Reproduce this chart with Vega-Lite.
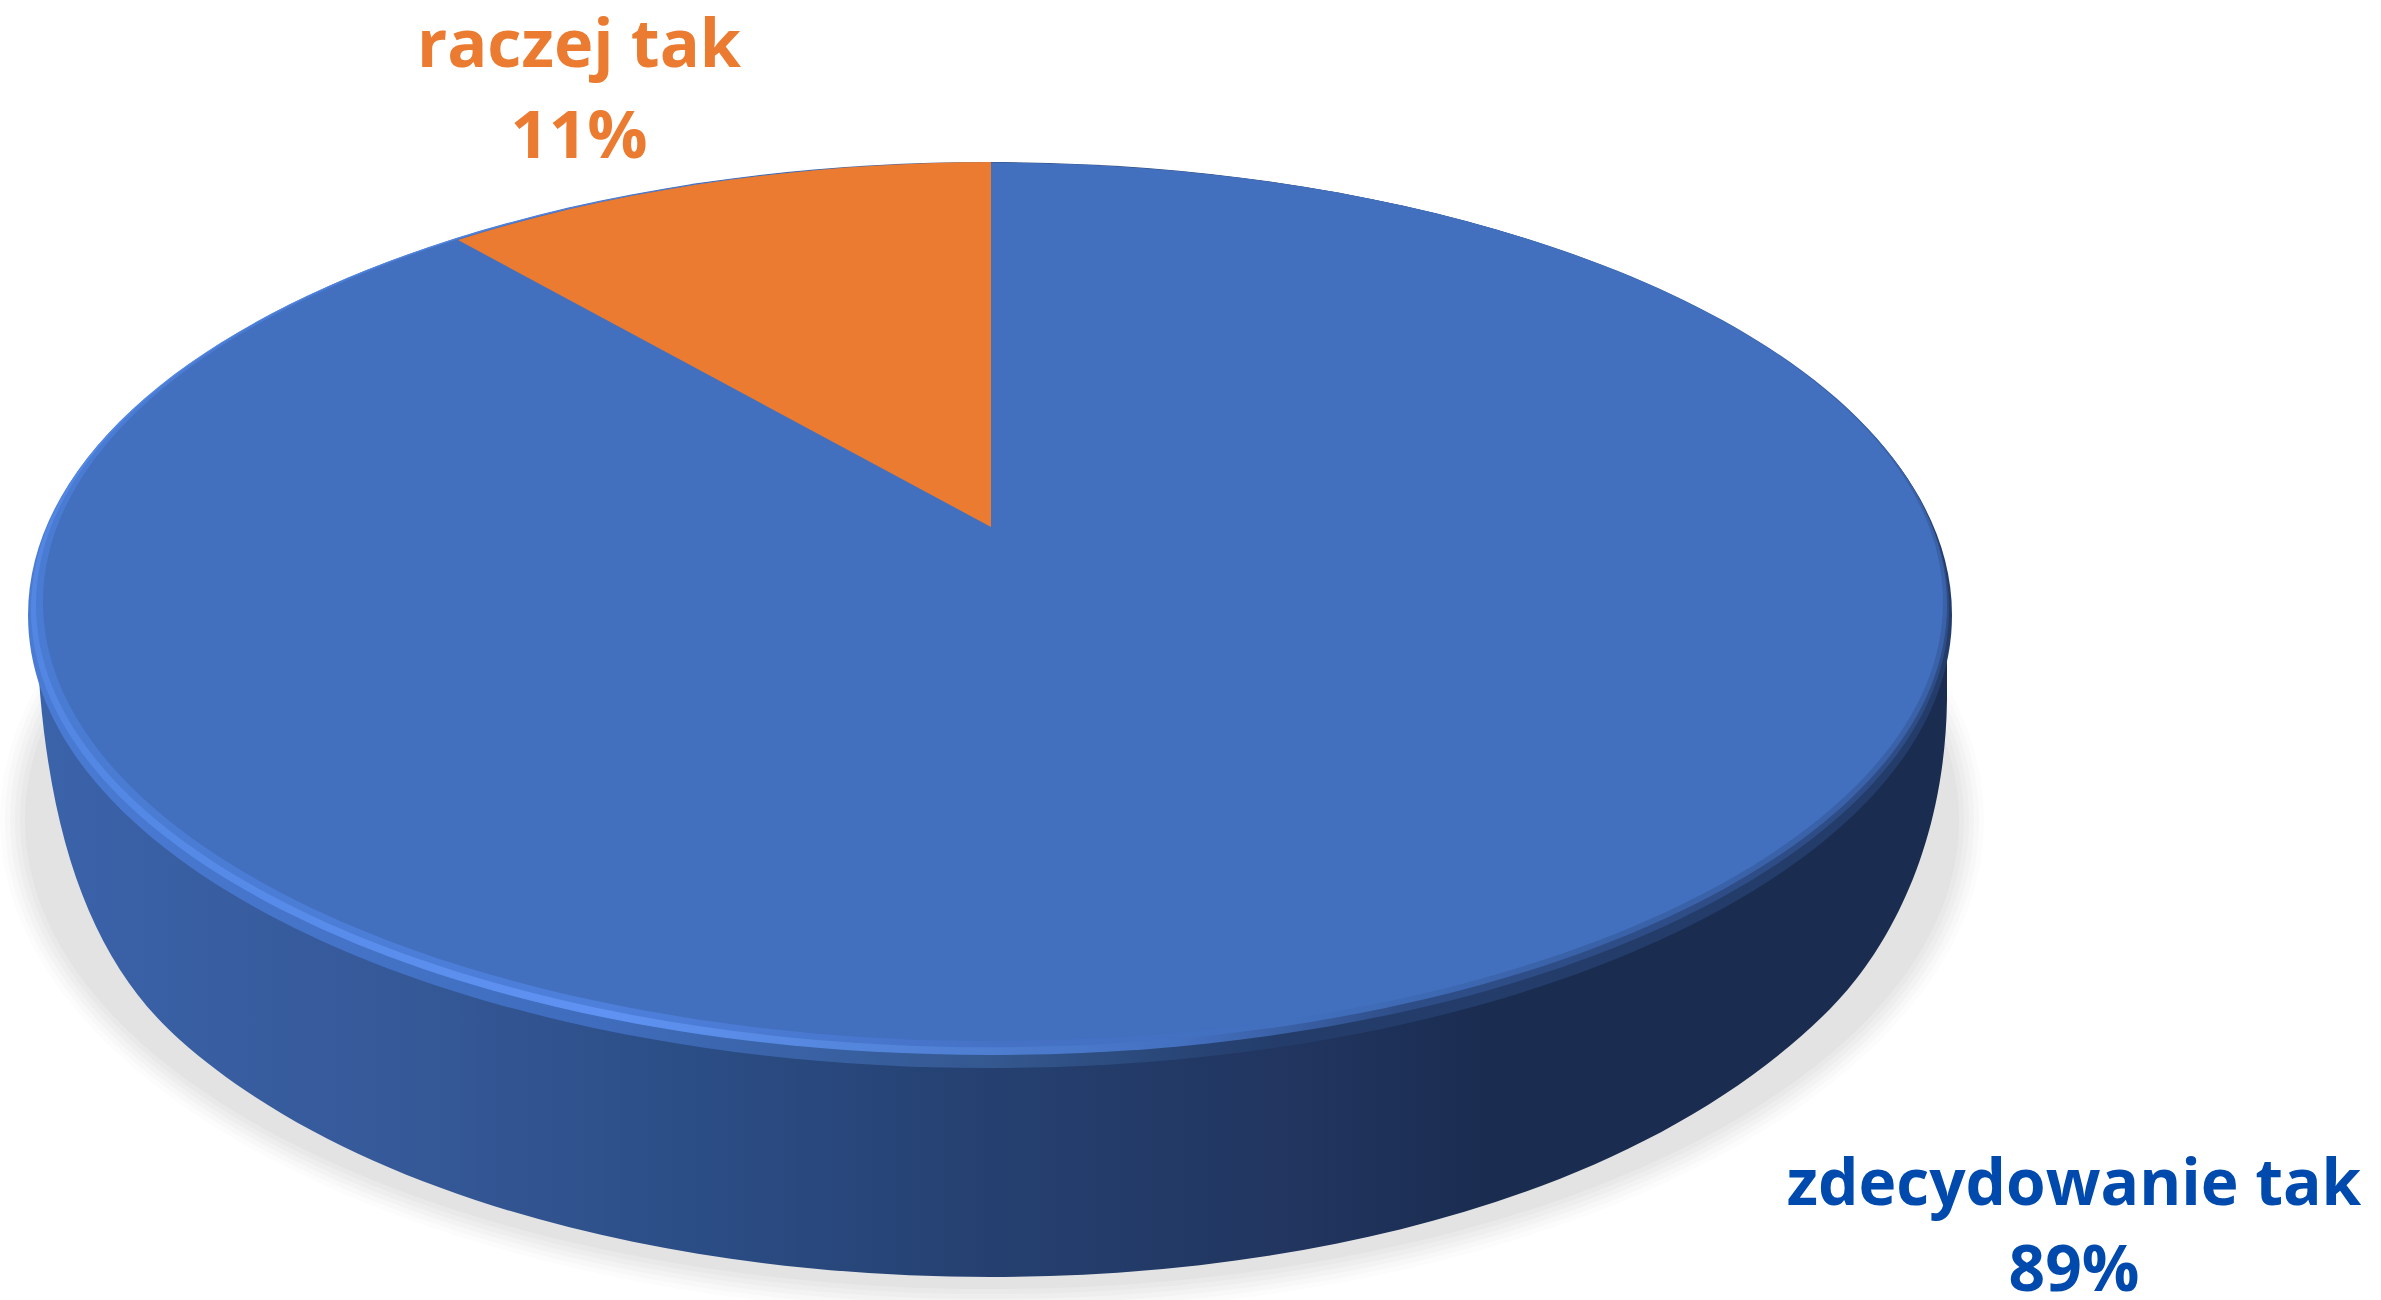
{"$schema":"https://vega.github.io/schema/vega-lite/v6.json","width":2381,"height":1300,"autosize":{"type":"none"},"padding":0,"background":"#ffffff","view":{"stroke":null},
"data":{"values":[{"answer":"zdecydowanie tak","label":"89%","share":89},{"answer":"raczej tak","label":"11%","share":11}]},
"resolve":{"scale":{"x":"independent","y":"independent","shape":"independent","color":"independent","size":"independent"}},
"layer":[
{"transform":[{"filter":"datum.share==89"}],"mark":{"type":"point","filled":true,"opacity":1,"size":4,"strokeWidth":0,"fill":"#fcfcfc","shape":"M -1190.5 170 A 992 494 0 1 1 793.5 170 A 992 494 0 1 1 -1190.5 170 Z"}},
{"transform":[{"filter":"datum.share==89"}],"mark":{"type":"point","filled":true,"opacity":1,"size":4,"strokeWidth":0,"fill":"#f8f8f8","shape":"M -1185.5 170 A 987 489 0 1 1 788.5 170 A 987 489 0 1 1 -1185.5 170 Z"}},
{"transform":[{"filter":"datum.share==89"}],"mark":{"type":"point","filled":true,"opacity":1,"size":4,"strokeWidth":0,"fill":"#f3f3f3","shape":"M -1180.5 170 A 982 484 0 1 1 783.5 170 A 982 484 0 1 1 -1180.5 170 Z"}},
{"transform":[{"filter":"datum.share==89"}],"mark":{"type":"point","filled":true,"opacity":1,"size":4,"strokeWidth":0,"fill":"#eeeeee","shape":"M -1175.5 170 A 977 479 0 1 1 778.5 170 A 977 479 0 1 1 -1175.5 170 Z"}},
{"transform":[{"filter":"datum.share==89"}],"mark":{"type":"point","filled":true,"opacity":1,"size":4,"strokeWidth":0,"fill":"#e9e9e9","shape":"M -1170.5 170 A 972 474 0 1 1 773.5 170 A 972 474 0 1 1 -1170.5 170 Z"}},
{"transform":[{"filter":"datum.share==89"}],"mark":{"type":"point","filled":true,"opacity":1,"size":4,"strokeWidth":0,"fill":"#e3e3e3","shape":"M -1165.5 170 A 967 469 0 1 1 768.5 170 A 967 469 0 1 1 -1165.5 170 Z"}},
{"transform":[{"filter":"datum.share==89"}],"mark":{"type":"point","filled":true,"opacity":1,"size":4,"strokeWidth":0,"shape":"M -1154.5 -30 C -1148.5 180 -1100.5 310 -1010.5 390 C -830.5 550 -510.5 627 -200.5 627 C 109.5 627 449.5 550 639.5 359 C 694.5 304 754.5 200 756.5 50 L 756.5 -30 Z","fill":{"gradient":"linear","x1":0,"y1":0,"x2":1,"y2":0,"stops":[{"offset":0,"color":"#3b63aa"},{"offset":0.2,"color":"#355897"},{"offset":0.35,"color":"#2b4d85"},{"offset":0.5,"color":"#254070"},{"offset":0.66,"color":"#21355f"},{"offset":0.76,"color":"#1a2c50"},{"offset":1,"color":"#1a2c50"}]}}},
{"transform":[{"filter":"datum.share==89"}],"mark":{"type":"point","filled":true,"opacity":1,"size":4,"strokeWidth":0,"shape":"M -1162.5 -35 A 962 453 0 1 1 761.5 -35 A 962 453 0 1 1 -1162.5 -35 Z","fill":{"gradient":"linear","x1":0,"y1":0,"x2":1,"y2":0,"stops":[{"offset":0,"color":"#4a7bd4"},{"offset":0.3,"color":"#3f6cbc"},{"offset":0.5,"color":"#34588f"},{"offset":0.65,"color":"#233c6a"},{"offset":1,"color":"#233c6a"}]}}},
{"transform":[{"filter":"datum.share==89"}],"mark":{"type":"point","filled":true,"opacity":1,"size":4,"strokeWidth":0,"shape":"M -1159.5 -41 A 959 446 0 1 1 758.5 -41 A 959 446 0 1 1 -1159.5 -41 Z","fill":{"gradient":"linear","x1":0,"y1":0,"x2":1,"y2":0,"stops":[{"offset":0,"color":"#5286e2"},{"offset":0.3,"color":"#5f92f2"},{"offset":0.46,"color":"#5283d8"},{"offset":0.6,"color":"#4470c0"},{"offset":0.72,"color":"#2e4c85"},{"offset":1,"color":"#2e4c85"}]}}},
{"transform":[{"filter":"datum.share==89"}],"mark":{"type":"point","filled":true,"opacity":1,"size":4,"strokeWidth":0,"shape":"M -1154.5 -45 A 955 442 0 1 1 756.5 -45 A 955 442 0 1 1 -1154.5 -45 Z","fill":{"gradient":"linear","x1":0,"y1":0,"x2":1,"y2":0,"stops":[{"offset":0,"color":"#4a7bd2"},{"offset":0.3,"color":"#4d7fdb"},{"offset":0.5,"color":"#4672c6"},{"offset":0.65,"color":"#4270bf"},{"offset":0.8,"color":"#3a62a8"},{"offset":1,"color":"#3a62a8"}]}}},
{"mark":{"type":"point","filled":true,"opacity":1,"size":4,"strokeWidth":0},"encoding":{"shape":{"field":"answer","type":"nominal","legend":null,"scale":{"domain":["zdecydowanie tak","raczej tak"],"range":["M -1147.5 -48 A 950 439 0 1 1 752.5 -48 A 950 439 0 1 1 -1147.5 -48 Z","M -199.5 -123 L -199.5 -488 A 962 453 0 0 0 -732.5 -410 Z"]}},"color":{"field":"answer","type":"nominal","legend":null,"scale":{"domain":["zdecydowanie tak","raczej tak"],"range":["#4270bf","#ea7b30"]}}}},
{"mark":{"type":"text","font":"Open Sans","fontWeight":"bold","align":"center","baseline":"alphabetic"},"encoding":{"text":{"field":"answer","type":"nominal"},"size":{"field":"answer","type":"ordinal","legend":null,"scale":{"domain":["raczej tak","zdecydowanie tak"],"range":[66.5,64]}},"x":{"field":"answer","type":"nominal","axis":null,"scale":{"type":"point","domain":["raczej tak","zdecydowanie tak"],"range":[579,2074],"padding":0}},"y":{"field":"answer","type":"nominal","axis":null,"scale":{"type":"point","domain":["raczej tak","zdecydowanie tak"],"range":[67,1205],"padding":0}},"color":{"field":"answer","type":"nominal","legend":null,"scale":{"domain":["zdecydowanie tak","raczej tak"],"range":["#004aad","#ea7b30"]}}}},
{"mark":{"type":"text","font":"Open Sans","fontWeight":"bold","align":"center","baseline":"alphabetic"},"encoding":{"text":{"field":"label","type":"nominal"},"size":{"field":"answer","type":"ordinal","legend":null,"scale":{"domain":["raczej tak","zdecydowanie tak"],"range":[67,64]}},"x":{"field":"answer","type":"nominal","axis":null,"scale":{"type":"point","domain":["raczej tak","zdecydowanie tak"],"range":[579,2074],"padding":0}},"y":{"field":"answer","type":"nominal","axis":null,"scale":{"type":"point","domain":["raczej tak","zdecydowanie tak"],"range":[158,1291],"padding":0}},"color":{"field":"answer","type":"nominal","legend":null,"scale":{"domain":["zdecydowanie tak","raczej tak"],"range":["#004aad","#ea7b30"]}}}}
]}
